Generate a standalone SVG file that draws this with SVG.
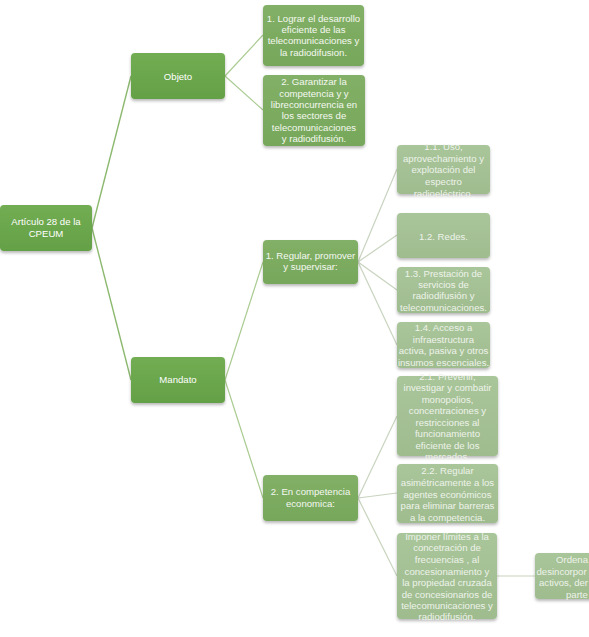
<svg xmlns="http://www.w3.org/2000/svg" width="589" height="637" viewBox="0 0 589 637">
<defs>
<filter id="sh" x="-10%" y="-10%" width="130%" height="140%">
<feDropShadow dx="0" dy="2" stdDeviation="1.6" flood-color="#000" flood-opacity="0.28"/>
</filter>
<linearGradient id="g1" x1="0" y1="0" x2="0" y2="1">
<stop offset="0" stop-color="#72ad53"/>
<stop offset="1" stop-color="#64a046"/>
</linearGradient>
<linearGradient id="g2" x1="0" y1="0" x2="0" y2="1">
<stop offset="0" stop-color="#82b067"/>
<stop offset="1" stop-color="#76a75a"/>
</linearGradient>
<linearGradient id="g3" x1="0" y1="0" x2="0" y2="1">
<stop offset="0" stop-color="#a9c59a"/>
<stop offset="1" stop-color="#9fbc8f"/>
</linearGradient>
</defs>
<style>
.l1{fill:url(#g1);filter:url(#sh);}
.l2{fill:url(#g2);filter:url(#sh);}
.l3{fill:url(#g3);filter:url(#sh);}
text{font-family:"Liberation Sans",Arial,sans-serif;font-size:9.6px;text-anchor:middle;}
.t1{fill:#ffffff;}
.t2{fill:#f4f8f0;}
.t3{fill:#eef3ea;}
.ts{text-anchor:start;}
.c1{stroke:#8cb96f;stroke-width:1.4;fill:none;}
.c2{stroke:#aacb92;stroke-width:1.2;fill:none;}
.c3{stroke:#c8d4bf;stroke-width:1.2;fill:none;}
</style>
<g id="connectors">
<line class="c1" x1="92" y1="228" x2="131" y2="76"/>
<line class="c1" x1="92" y1="228" x2="131" y2="380"/>
<line class="c2" x1="225" y1="76" x2="263" y2="35"/>
<line class="c2" x1="225" y1="76" x2="263" y2="110"/>
<line class="c2" x1="225" y1="380" x2="263" y2="262"/>
<line class="c2" x1="225" y1="380" x2="263" y2="498"/>
<line class="c3" x1="358" y1="262" x2="397" y2="169"/>
<line class="c3" x1="358" y1="262" x2="397" y2="235"/>
<line class="c3" x1="358" y1="262" x2="397" y2="290"/>
<line class="c3" x1="358" y1="262" x2="397" y2="345"/>
<line class="c3" x1="358" y1="498" x2="397" y2="416"/>
<line class="c3" x1="358" y1="498" x2="397" y2="493"/>
<line class="c3" x1="358" y1="498" x2="397" y2="576"/>
<line class="c3" x1="497" y1="576" x2="535" y2="576"/>
</g>
<g id="root">
<rect class="l1" x="0" y="205" width="92" height="46" rx="4"/>
<text class="t1" x="46" y="225">Artículo 28 de la</text>
<text class="t1" x="46" y="237">CPEUM</text>
</g>
<g id="objeto">
<rect class="l1" x="131" y="53" width="94" height="46" rx="4"/>
<text class="t1" x="178" y="79.5">Objeto</text>
</g>
<g id="mandato">
<rect class="l1" x="131" y="357" width="94" height="46" rx="4"/>
<text class="t1" x="178" y="383">Mandato</text>
</g>
<g id="obj1">
<rect class="l2" x="263" y="5" width="101" height="61" rx="4"/>
<text class="t2" x="313.5" y="21.8">1. Lograr el desarrollo</text>
<text class="t2" x="313.5" y="33">eficiente de las</text>
<text class="t2" x="313.5" y="44.3">telecomunicaciones y</text>
<text class="t2" x="313.5" y="55.5">la radiodifusion.</text>
</g>
<g id="obj2">
<rect class="l2" x="263" y="75" width="102" height="71" rx="4"/>
<text class="t2" x="314" y="85.2">2. Garantizar la</text>
<text class="t2" x="314" y="96.6">competencia y y</text>
<text class="t2" x="314" y="108">libreconcurrencia en</text>
<text class="t2" x="314" y="119.4">los sectores de</text>
<text class="t2" x="314" y="130.8">telecomunicaciones</text>
<text class="t2" x="314" y="142.2">y radiodifusión.</text>
</g>
<g id="regular">
<rect class="l2" x="263" y="240" width="95" height="44" rx="4"/>
<text class="t2" x="310.5" y="258.5">1. Regular, promover</text>
<text class="t2" x="310.5" y="269.5">y supervisar:</text>
</g>
<g id="competencia">
<rect class="l2" x="263" y="475" width="95" height="46" rx="4"/>
<text class="t2" x="310.5" y="495.3">2. En competencia</text>
<text class="t2" x="310.5" y="506.8">economica:</text>
</g>
<g id="n11">
<rect class="l3" x="397" y="145" width="93" height="49" rx="4"/>
<text class="t3" x="443.5" y="149.5">1.1. Uso,</text>
<text class="t3" x="443.5" y="161.6">aprovechamiento y</text>
<text class="t3" x="443.5" y="173.4">explotación del</text>
<text class="t3" x="443.5" y="185.1">espectro</text>
<text class="t3" x="443.5" y="196.5">radioeléctrico.</text>
</g>
<g id="n12">
<rect class="l3" x="397" y="213" width="93" height="45" rx="4"/>
<text class="t3" x="443.5" y="239.5">1.2. Redes.</text>
</g>
<g id="n13">
<rect class="l3" x="397" y="267" width="93" height="46" rx="4"/>
<text class="t3" x="443.5" y="276.8">1.3. Prestación de</text>
<text class="t3" x="443.5" y="288">servicios de</text>
<text class="t3" x="443.5" y="299.3">radiodifusión y</text>
<text class="t3" x="443.5" y="310.8">telecomunicaciones.</text>
</g>
<g id="n14">
<rect class="l3" x="397" y="322" width="93" height="46" rx="4"/>
<text class="t3" x="443.5" y="330.8">1.4. Acceso a</text>
<text class="t3" x="443.5" y="342.5">infraestructura</text>
<text class="t3" x="443.5" y="354.2">activa, pasiva y otros</text>
<text class="t3" x="443.5" y="365.8">insumos escenciales.</text>
</g>
<g id="n21">
<rect class="l3" x="397" y="376" width="101" height="80" rx="4"/>
<text class="t3" x="447.5" y="379.5">2.1. Prevenir,</text>
<text class="t3" x="447.5" y="391">investigar y combatir</text>
<text class="t3" x="447.5" y="402.6">monopolios,</text>
<text class="t3" x="447.5" y="414.2">concentraciones y</text>
<text class="t3" x="447.5" y="425.8">restricciones al</text>
<text class="t3" x="447.5" y="437.4">funcionamiento</text>
<text class="t3" x="447.5" y="449">eficiente de los</text>
<text class="t3" x="447.5" y="460.4">mercados.</text>
</g>
<g id="n22">
<rect class="l3" x="397" y="464" width="101" height="59" rx="4"/>
<text class="t3" x="447.5" y="473.5">2.2. Regular</text>
<text class="t3" x="447.5" y="485.8">asimétricamente a los</text>
<text class="t3" x="447.5" y="497.5">agentes económicos</text>
<text class="t3" x="447.5" y="509.2">para eliminar barreras</text>
<text class="t3" x="447.5" y="520.8">a la competencia.</text>
</g>
<g id="n23">
<rect class="l3" x="397" y="533" width="100" height="86" rx="4"/>
<text class="t3" x="447" y="539.5">Imponer límites a la</text>
<text class="t3" x="447" y="551.2">concetración de</text>
<text class="t3" x="447" y="562.8">frecuencias , al</text>
<text class="t3" x="447" y="574.5">concesionamiento y</text>
<text class="t3" x="447" y="585.8">la propiedad cruzada</text>
<text class="t3" x="447" y="597.5">de concesionarios de</text>
<text class="t3" x="447" y="609.2">telecomunicaciones y</text>
<text class="t3" x="447" y="620.2">radiodifusión.</text>
</g>
<g id="n231">
<rect class="l3" x="535" y="553" width="101" height="46" rx="4"/>
<text class="t3 ts" x="556" y="562.8">Ordena</text>
<text class="t3 ts" x="536.5" y="574.5">desincorpor</text>
<text class="t3 ts" x="539" y="585.8">activos, der</text>
<text class="t3 ts" x="566" y="597.5">parte</text>
</g>
</svg>
